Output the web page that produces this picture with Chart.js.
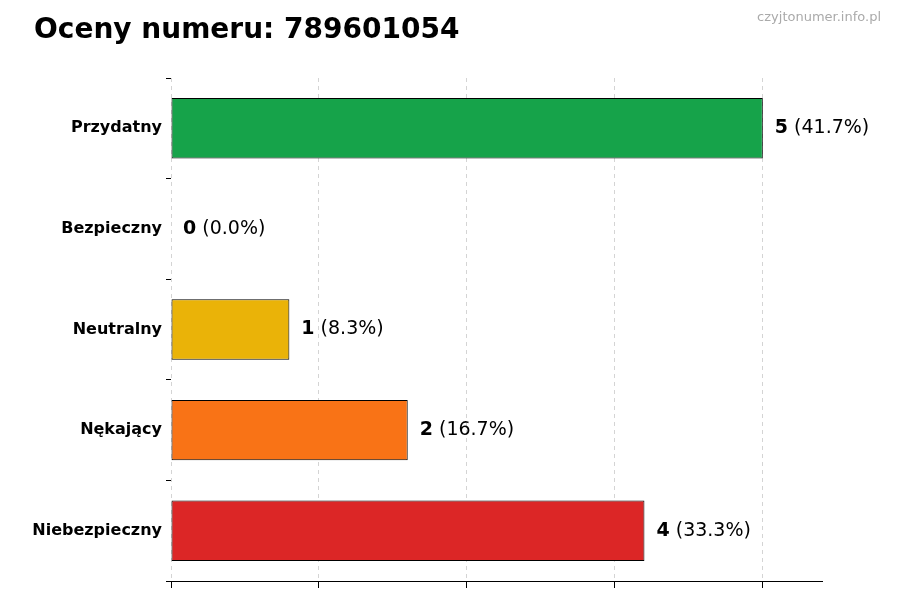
<!DOCTYPE html>
<html>
<head>
<meta charset="utf-8">
<script src="https://cdn.jsdelivr.net/npm/chart.js@4"></script>
<style>
body { margin: 0; background: #fff; }
#wrap { width: 900px; height: 600px; }
</style>
</head>
<body>
<div id="wrap"><canvas id="chart"></canvas></div>
<script>
const categories = ['Przydatny', 'Bezpieczny', 'Neutralny', 'Nękający', 'Niebezpieczny'];
const counts = [5, 0, 1, 2, 4];
const percents = ['41.7%', '0.0%', '8.3%', '16.7%', '33.3%'];
const colors = ['#16a34a', '#16a34a', '#eab308', '#f97316', '#dc2626'];
const xTicks = [0, 1.25, 2.5, 3.75, 5];

// etykiety przy słupkach, tytuł i znak wodny
const labelsPlugin = {
    id: 'labels',
    afterDraw(chart) {
        const ctx = chart.ctx;
        ctx.save();
        ctx.fillStyle = '#000';
        ctx.font = 'bold 28px "DejaVu Sans"';
        ctx.textBaseline = 'middle';
        ctx.fillText('Oceny numeru: 789601054', 34, 31);
        ctx.fillStyle = '#aaa';
        ctx.font = '13px "DejaVu Sans"';
        ctx.textAlign = 'right';
        ctx.fillText('czyjtonumer.info.pl', 881, 18);
        ctx.textAlign = 'left';
        const meta = chart.getDatasetMeta(0);
        meta.data.forEach((bar, i) => {
            const x = bar.x + 12;
            ctx.fillStyle = '#000';
            ctx.font = 'bold 19px "DejaVu Sans"';
            const n = String(counts[i]);
            ctx.fillText(n, x, bar.y);
            const w = ctx.measureText(n).width;
            ctx.font = '19px "DejaVu Sans"';
            ctx.fillText(' (' + percents[i] + ')', x + w, bar.y);
        });
        ctx.restore();
    }
};

new Chart(document.getElementById('chart'), {
    type: 'bar',
    data: {
        labels: categories,
        datasets: [{
            data: counts,
            backgroundColor: colors,
            borderColor: '#000',
            borderWidth: 1,
            borderSkipped: false,
            barPercentage: 0.6,
            categoryPercentage: 1
        }]
    },
    options: {
        indexAxis: 'y',
        responsive: true,
        maintainAspectRatio: false,
        animation: false,
        layout: { padding: { top: 78, right: 78, bottom: 12, left: 0 } },
        plugins: { legend: { display: false }, tooltip: { enabled: false } },
        scales: {
            x: {
                min: 0,
                max: 5.5,
                afterBuildTicks(scale) { scale.ticks = xTicks.map(v => ({ value: v })); },
                ticks: { display: false },
                grid: { color: '#d4d4d4', tickColor: '#000', tickLength: 7, drawOnChartArea: true },
                border: { color: '#000', dash: [4, 4] }
            },
            y: {
                afterFit(scale) { scale.width = 171; },
                ticks: { color: '#000', font: { family: 'DejaVu Sans', size: 16, weight: 'bold' }, padding: 4 },
                grid: { drawOnChartArea: false, tickColor: '#000', tickLength: 5 },
                border: { display: false }
            }
        }
    },
    plugins: [labelsPlugin]
});
</script>
</body>
</html>
